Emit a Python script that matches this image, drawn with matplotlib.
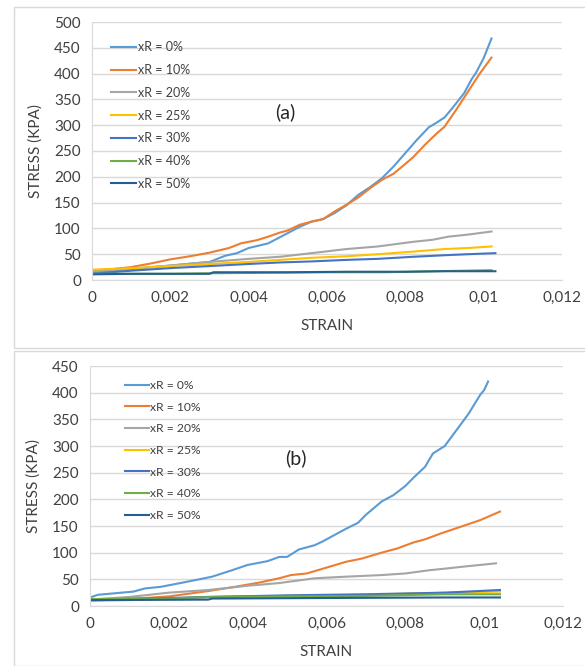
import matplotlib.pyplot as plt
from matplotlib.patches import Rectangle
from matplotlib.ticker import FuncFormatter

plt.rcParams['font.family'] = ['Lato', 'DejaVu Sans']

# series names and colours (Excel defaults)
labels = ["xR = 0%", "xR = 10%", "xR = 20%", "xR = 25%", "xR = 30%", "xR = 40%", "xR = 50%"]
colors = ["#5B9BD5", "#ED7D31", "#A5A5A5", "#FFC000", "#4472C4", "#70AD47", "#255E91"]

# ---- panel (a) ----
a0_x = [0, 0.001, 0.002, 0.003, 0.0034, 0.0037, 0.004, 0.0045, 0.0049, 0.0053, 0.0056, 0.0059, 0.0062, 0.0065,
        0.0068, 0.0071, 0.0074, 0.0077, 0.008, 0.0083, 0.0086, 0.0088, 0.009, 0.0092, 0.0095, 0.0097, 0.0098, 0.01, 0.0102]
a0_y = [15, 21, 28, 35, 47, 52, 62, 71, 87, 103, 113, 118, 130, 145,
        165, 180, 197, 220, 246, 272, 296, 305, 315, 333, 362, 390, 401, 430, 468]
a1_x = [0, 0.0005, 0.001, 0.0015, 0.002, 0.0025, 0.003, 0.0035, 0.0038, 0.0042, 0.0045, 0.0048, 0.005, 0.0053,
        0.0056, 0.0059, 0.0062, 0.0065, 0.0068, 0.0071, 0.0074, 0.0077, 0.008, 0.0082, 0.0085, 0.0088, 0.009,
        0.0093, 0.0096, 0.0099, 0.0102]
a1_y = [18, 21, 25, 32, 40, 46, 53, 62, 71, 77, 84, 92, 96, 107,
        113, 118, 133, 146, 160, 178, 194, 206, 225, 238, 262, 284, 297,
        330, 365, 400, 431]
a2_x = [0, 0.001, 0.002, 0.003, 0.004, 0.0048, 0.0056, 0.0065, 0.0073, 0.0082, 0.0087, 0.0091, 0.0096, 0.0102]
a2_y = [17, 22, 28, 35, 41, 45, 52, 60, 65, 74, 78, 84, 88, 94]
a3_x = [0, 0.001, 0.002, 0.003, 0.004, 0.0048, 0.0056, 0.0065, 0.0073, 0.0082, 0.009, 0.0096, 0.0102]
a3_y = [20, 23, 27, 31, 35, 39, 43, 46, 50, 55, 60, 62, 65]
a4_x = [0, 0.001, 0.002, 0.003, 0.004, 0.0048, 0.0056, 0.0065, 0.0073, 0.0082, 0.009, 0.0096, 0.0103]
a4_y = [12, 18, 23, 27, 31, 34, 36, 39, 41, 45, 48, 50, 52]
a5_x = [0, 0.002, 0.003, 0.0045, 0.006, 0.0075, 0.0087, 0.0095, 0.0102]
a5_y = [12, 12, 13, 14, 15, 15, 17, 18, 19]
a6_x = [0, 0.001, 0.002, 0.003, 0.0031, 0.005, 0.0065, 0.008, 0.009, 0.0103]
a6_y = [11, 12, 12, 12, 15, 15, 16, 16, 17, 17]

# ---- panel (b) ----
b0_x = [0, 0.0002, 0.0011, 0.0014, 0.0018, 0.0025, 0.0031, 0.0036, 0.004, 0.0045, 0.0048, 0.005, 0.0053, 0.0057,
        0.0059, 0.0062, 0.0065, 0.0068, 0.007, 0.0074, 0.0077, 0.008, 0.0082, 0.0085, 0.0087, 0.009, 0.0093,
        0.0096, 0.0099, 0.01, 0.0101]
b0_y = [16, 21, 27, 33, 36, 46, 55, 67, 77, 84, 92, 92, 106, 114,
        121, 133, 145, 156, 171, 196, 208, 225, 240, 261, 286, 300, 330,
        360, 396, 405, 421]
b1_x = [0, 0.001, 0.002, 0.003, 0.0036, 0.0043, 0.0048, 0.0051, 0.0055, 0.006, 0.0065, 0.0069, 0.0074, 0.0078,
        0.0082, 0.0085, 0.0089, 0.0093, 0.0099, 0.0104]
b1_y = [10, 13, 18, 28, 35, 44, 52, 58, 61, 72, 83, 89, 100, 108,
        119, 125, 136, 146, 161, 177]
b2_x = [0, 0.001, 0.002, 0.003, 0.004, 0.0048, 0.0057, 0.0065, 0.0074, 0.008, 0.0086, 0.009, 0.0095, 0.0103]
b2_y = [12, 17, 25, 30, 38, 43, 52, 55, 58, 61, 67, 70, 74, 80]
b3_x = [0, 0.001, 0.002, 0.003, 0.005, 0.007, 0.009, 0.0104]
b3_y = [10, 11, 14, 17, 19, 21, 25, 27]
b4_x = [0, 0.002, 0.003, 0.005, 0.007, 0.009, 0.0104]
b4_y = [12, 15, 17, 20, 22, 25, 30]
b5_x = [0, 0.002, 0.0032, 0.005, 0.007, 0.009, 0.0104]
b5_y = [13, 14, 17, 18, 19, 22, 22]
b6_x = [0, 0.003, 0.0031, 0.006, 0.009, 0.0104]
b6_y = [11, 12, 14, 15, 16, 16]

xticks = [0, 0.002, 0.004, 0.006, 0.008, 0.01, 0.012]
yticks_a = [0, 50, 100, 150, 200, 250, 300, 350, 400, 450, 500]
yticks_b = [0, 50, 100, 150, 200, 250, 300, 350, 400, 450]

txt = "#404040"
grid = "#D9D9D9"


def comma(v, pos):
    s = "{:g}".format(round(v, 6))
    return s.replace(".", ",")


def style_axes(ax, yticks):
    ax.set_xlim(0, 0.012)
    ax.set_ylim(yticks[0], yticks[-1])
    ax.set_xticks(xticks)
    ax.set_yticks(yticks)
    ax.xaxis.set_major_formatter(FuncFormatter(comma))
    ax.grid(axis="y", color=grid, linewidth=1)
    ax.set_axisbelow(True)
    for s in ["top", "right"]:
        ax.spines[s].set_visible(False)
    for s in ["left", "bottom"]:
        ax.spines[s].set_color(grid)
    ax.tick_params(length=0, labelsize=11, colors=txt, pad=8)
    ax.set_xlabel("STRAIN", fontsize=11, color=txt, labelpad=10)
    ax.set_ylabel("STRESS (KPA)", fontsize=11, color=txt, labelpad=8)


fig = plt.figure(figsize=(5.85, 6.66), dpi=100)
fig.patches.append(Rectangle((14 / 585, 1 - 348 / 666), 1, 341 / 666, transform=fig.transFigure,
                             fill=False, edgecolor=grid, linewidth=1))
fig.patches.append(Rectangle((14 / 585, 0), 1, 1 - 351 / 666, transform=fig.transFigure,
                             fill=False, edgecolor=grid, linewidth=1))

ax1 = fig.add_axes([92 / 585, 1 - 280 / 666, 470 / 585, 258 / 666])
ax2 = fig.add_axes([90 / 585, 1 - 606 / 666, 473 / 585, 240 / 666])

series_a = [(a0_x, a0_y), (a1_x, a1_y), (a2_x, a2_y), (a3_x, a3_y), (a4_x, a4_y), (a5_x, a5_y), (a6_x, a6_y)]
series_b = [(b0_x, b0_y), (b1_x, b1_y), (b2_x, b2_y), (b3_x, b3_y), (b4_x, b4_y), (b5_x, b5_y), (b6_x, b6_y)]

for (x, y), c, lab in zip(series_a, colors, labels):
    ax1.plot(x, y, color=c, linewidth=1.5, label=lab)
for (x, y), c, lab in zip(series_b, colors, labels):
    ax2.plot(x, y, color=c, linewidth=1.5, label=lab)

style_axes(ax1, yticks_a)
style_axes(ax2, yticks_b)

ax1.legend(loc="upper left", bbox_to_anchor=(105 / 585, 1 - 35 / 666), bbox_transform=fig.transFigure,
           frameon=False, fontsize=9, handlelength=2.0, handletextpad=0.1, labelspacing=0.86,
           borderpad=0, labelcolor=txt)
ax2.legend(loc="upper left", bbox_to_anchor=(119 / 585, 1 - 374 / 666), bbox_transform=fig.transFigure,
           frameon=False, fontsize=8.7, handlelength=2.0, handletextpad=0.1, labelspacing=0.88,
           borderpad=0, labelcolor=txt)

fig.text(285 / 585, 1 - 112 / 666, "(a)", fontsize=14, color="#262626", ha="center", va="center")
fig.text(296 / 585, 1 - 458 / 666, "(b)", fontsize=14, color="#262626", ha="center", va="center")

fig.savefig("out.png", dpi=100)
